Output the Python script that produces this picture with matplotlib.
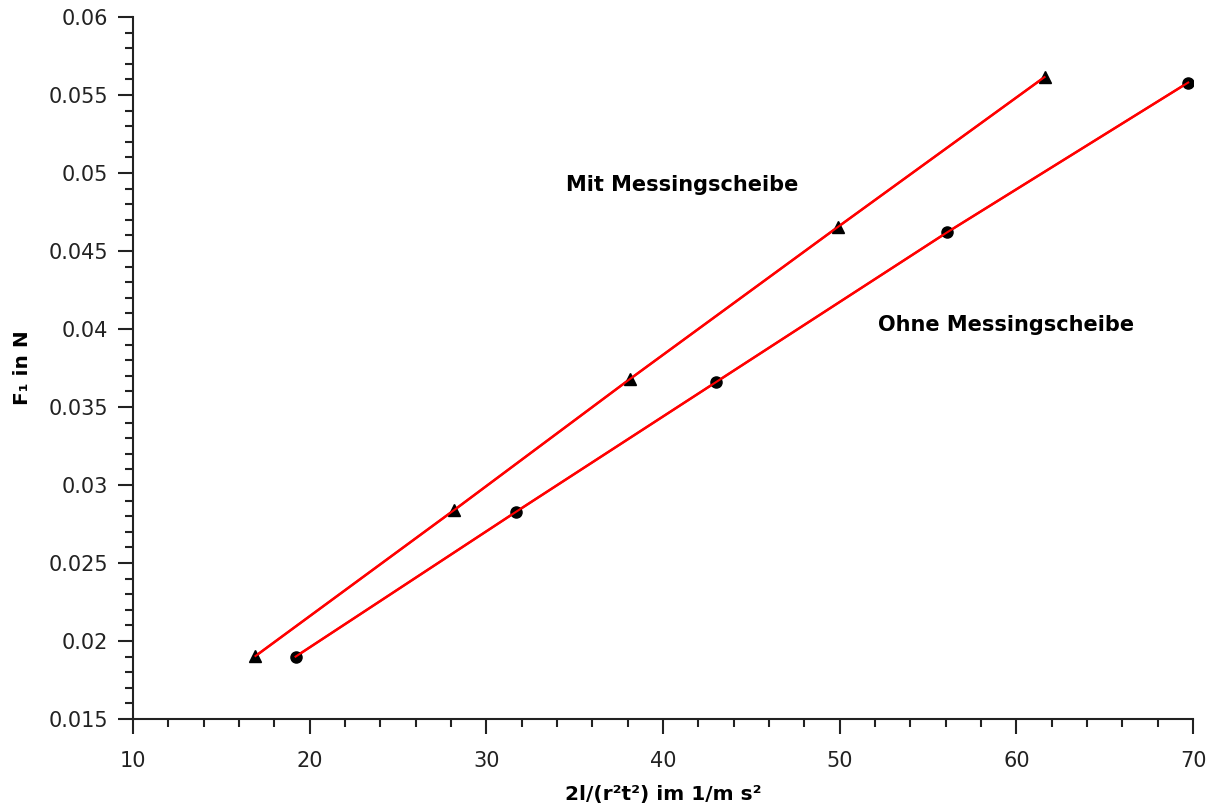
import matplotlib.pyplot as plt
from matplotlib.ticker import MultipleLocator

# Mit Messingscheibe (triangles)
x_mit = [16.93, 28.18, 38.13, 49.89, 61.59]
f_mit = [0.01904, 0.0284, 0.0368, 0.04654, 0.05615]

# Ohne Messingscheibe (circles)
x_ohne = [19.2, 31.7, 43.0, 56.08, 69.72]
f_ohne = [0.0190, 0.0283, 0.0366, 0.0462, 0.0558]

yticks = [0.015, 0.02, 0.025, 0.03, 0.035, 0.04, 0.045, 0.05, 0.055, 0.06]
ytick_labels = ['0.015', '0.02', '0.025', '0.03', '0.035', '0.04',
                '0.045', '0.05', '0.055', '0.06']

plt.rcParams['font.family'] = ['DejaVu Sans']

fig = plt.figure(figsize=(12.15, 8.1), dpi=100)
ax = fig.add_axes([0.1095, 0.1123, 0.8725, 0.8667])

ax.plot(x_mit, f_mit, color='red', lw=1.8, zorder=2)
ax.plot(x_ohne, f_ohne, color='red', lw=1.8, zorder=2)
ax.plot(x_mit, f_mit, ls='none', marker='^', color='black', ms=8.5, zorder=3)
ax.plot(x_ohne, f_ohne, ls='none', marker='o', color='black', ms=8, zorder=3)
# red line drawn again over markers, like in the original
ax.plot(x_mit, f_mit, color='red', lw=1.5, zorder=4)
ax.plot(x_ohne, f_ohne, color='red', lw=1.5, zorder=4)

ax.text(41.08, 0.04923, 'Mit Messingscheibe', ha='center', va='center',
        fontsize=15, fontweight='bold')
ax.text(59.43, 0.04026, 'Ohne Messingscheibe', ha='center', va='center',
        fontsize=15, fontweight='bold')

ax.set_xlim(10, 70)
ax.set_ylim(0.015, 0.06)
ax.xaxis.set_major_locator(MultipleLocator(10))
ax.xaxis.set_minor_locator(MultipleLocator(2))
ax.yaxis.set_minor_locator(MultipleLocator(0.001))
ax.set_yticks(yticks)
ax.set_yticklabels(ytick_labels)

for s in ['top', 'right']:
    ax.spines[s].set_visible(False)
for s in ['left', 'bottom']:
    ax.spines[s].set_linewidth(1.5)
    ax.spines[s].set_color('#222222')

ax.tick_params(which='major', direction='out', length=11, width=1.5,
               labelsize=15, colors='#222222', pad=7)
ax.tick_params(axis='x', which='major', pad=12)
ax.tick_params(which='minor', direction='out', length=6, width=1.5,
               colors='#222222')

ax.set_xlabel('2l/(r²t²) im 1/m s²', fontsize=14.5, fontweight='bold', labelpad=10)
ax.set_ylabel('F₁ in N', fontsize=14.5, fontweight='bold', labelpad=12)

plt.savefig('out.png', dpi=100)
